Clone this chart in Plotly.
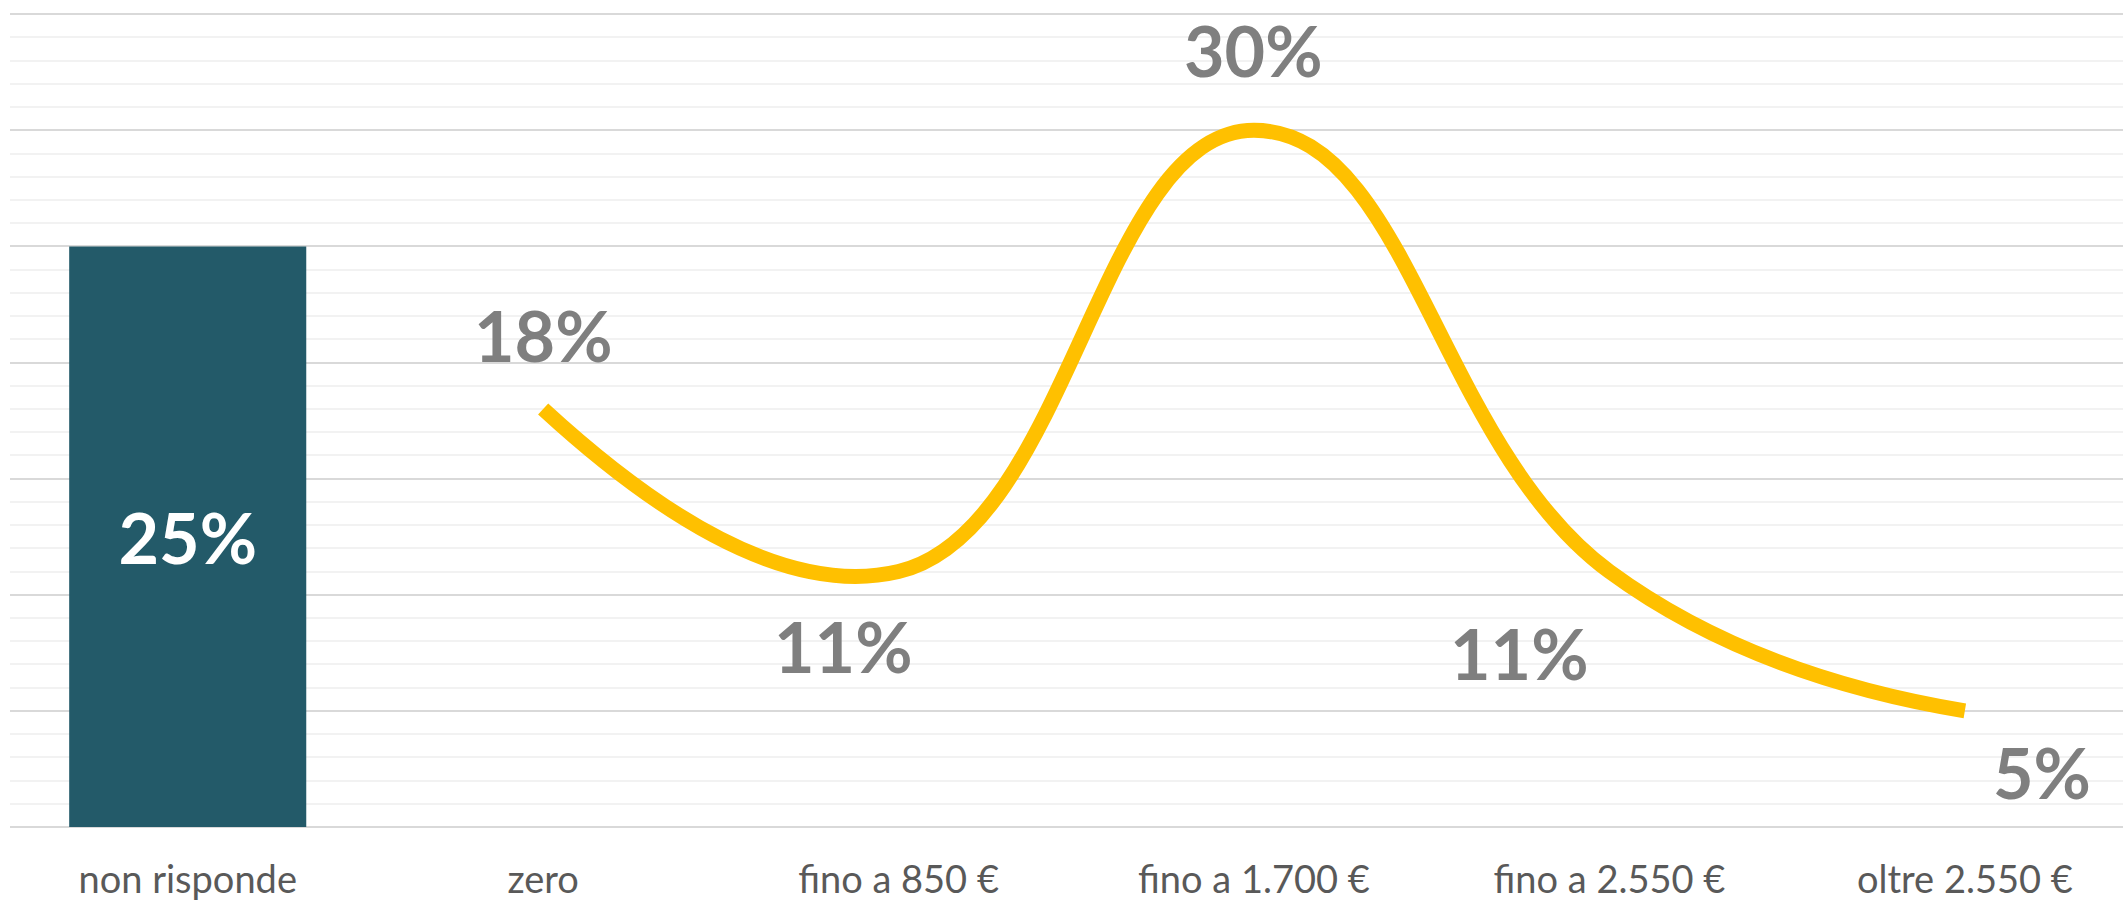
import plotly.graph_objects as go

categories = ["non risponde", "zero", "fino a 850 €", "fino a 1.700 €", "fino a 2.550 €", "oltre 2.550 €"]
bar_categories = ["non risponde"]
bar_values = [25]
line_categories = ["zero", "fino a 850 €", "fino a 1.700 €", "fino a 2.550 €", "oltre 2.550 €"]
line_values = [18, 11, 30, 11, 5]
line_labels = ["18%", "11%", "30%", "11%", "5%"]
# pixel offsets of each line label relative to its point
label_dx = [0, -55, 0, -90, 77]
label_dy = [74, -74, 80, -81, -61]

FONT = "Lato"

fig = go.Figure()
fig.add_trace(go.Bar(
    x=bar_categories, y=bar_values, width=0.667,
    marker=dict(color="#235a69", line=dict(width=0)),
    text=[f"{v}%" for v in bar_values], textposition="inside",
    insidetextanchor="middle",
    textfont=dict(family=FONT, size=70, color="white", weight="bold"),
    hoverinfo="skip",
))
fig.add_trace(go.Scatter(
    x=line_categories, y=line_values, mode="lines",
    line=dict(color="#FFC000", width=15, shape="spline", smoothing=1.3),
    hoverinfo="skip",
))
for c, v, t, dx, dy in zip(line_categories, line_values, line_labels, label_dx, label_dy):
    fig.add_annotation(x=c, y=v, xref="x", yref="y", text=t, showarrow=False,
                       xshift=dx, yshift=dy,
                       font=dict(family=FONT, size=70, color="#7f7f7f", weight="bold"))

fig.update_layout(
    width=2123, height=902,
    margin=dict(l=10, r=0, t=13, b=75),
    paper_bgcolor="white", plot_bgcolor="white",
    showlegend=False,
    xaxis=dict(categoryorder="array", categoryarray=categories,
               range=[-0.5, 5.445], showgrid=False, zeroline=False,
               showline=False, ticks="", automargin=False,
               tickfont=dict(family=FONT, size=38, color="#595959"),
               ticklabelstandoff=27),
    yaxis=dict(range=[0, 35.05], dtick=5, showticklabels=False, automargin=False,
               showgrid=True, gridcolor="#d9d9d9", gridwidth=2,
               zeroline=True, zerolinecolor="#d9d9d9", zerolinewidth=2,
               minor=dict(dtick=1, showgrid=True, gridcolor="#f2f2f2", gridwidth=2)),
)
fig.write_html("out.html", config={"displayModeBar": False},
               post_script="document.body.style.margin='0px';")
